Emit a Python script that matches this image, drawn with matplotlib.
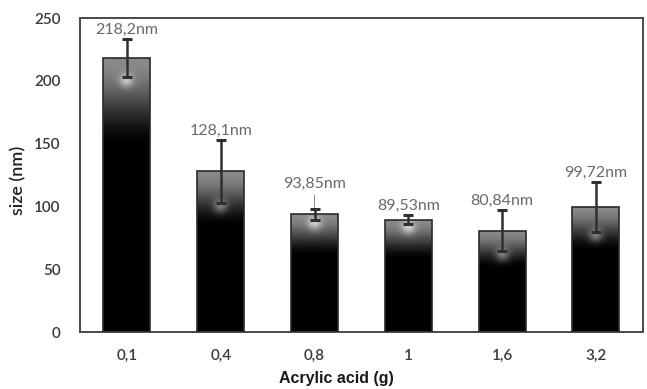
import numpy as np
import matplotlib.pyplot as plt

# mean particle size per acrylic acid loading, with standard deviation
amounts = ['0,1', '0,4', '0,8', '1', '1,6', '3,2']
sizes = [218.2, 128.1, 93.85, 89.53, 80.84, 99.72]
errors = [15.0, 25.0, 4.5, 3.5, 16.5, 20.0]
labels = ['218,2nm', '128,1nm', '93,85nm', '89,53nm', '80,84nm', '99,72nm']

fig = plt.figure(figsize=(6.47, 3.89), dpi=100)
ax = fig.add_axes([0.1236, 0.1465, 0.870, 0.807])

x = np.arange(len(amounts))
width = 0.5
px_per_unit = 0.807 * 389 / 250.0  # vertical pixels per nm

bars = ax.bar(x, sizes, width, facecolor='none', edgecolor='#2a2a2a', lw=1.2, zorder=3)

# shaded fill: grey top fading to black, with a soft highlight near the lower error cap
for xi, h, e, bar in zip(x, sizes, errors, bars):
    ny = int(h * px_per_unit)
    nx = 47
    yy = np.linspace(1, 0, ny)[:, None]  # 1 at top
    depth = (1 - yy) * ny                 # pixels below top
    t = np.clip(depth / (0.3 * ny + 8), 0, 1)
    base = 0.54 * (1 - t * t * (3 - 2 * t))
    xx = np.arange(nx)[None, :] - (nx - 1) / 2
    gy = (h - e) * px_per_unit
    dist2 = xx ** 2 + (yy * ny - gy + 4) ** 2
    glow = 0.32 * np.exp(-dist2 / (2 * 5.0 ** 2))
    img = np.clip(base + glow, 0, 1)
    im = ax.imshow(img, cmap='gray', vmin=0, vmax=1, aspect='auto',
                   extent=[xi - width / 2, xi + width / 2, 0, h],
                   interpolation='bilinear', zorder=2)
    im.set_clip_path(bar)

ax.errorbar(x, sizes, yerr=errors, fmt='none', ecolor='#303030',
            elinewidth=1.8, capsize=3.5, capthick=2.2, zorder=4)

# value labels above each error bar
for i, (h, e, lab) in enumerate(zip(sizes, errors, labels)):
    if lab == '93,85nm':
        ax.annotate(lab, xy=(i, h + e + 1), xytext=(i, h + e + 14),
                    ha='center', va='bottom', fontsize=11.5, color='#6a6a6a',
                    family='Lato',
                    arrowprops=dict(arrowstyle='-', color='#909090', lw=0.8,
                                    shrinkA=1, shrinkB=0), zorder=5)
    else:
        ax.text(i, h + e + 1.5, lab, ha='center', va='bottom', fontsize=11.5,
                color='#6a6a6a', family='Lato', zorder=5)

ax.set_xlim(-0.5, len(amounts) - 0.5)
ax.set_ylim(0, 250)
ax.set_yticks(range(0, 251, 50))
ax.set_xticks(x)
ax.set_xticklabels(amounts)
ax.tick_params(length=0, labelsize=11, colors='#3a3a3a')
ax.tick_params(axis='y', pad=14)
ax.tick_params(axis='x', pad=12)
for lab in ax.get_xticklabels() + ax.get_yticklabels():
    lab.set_family('Lato')
    lab.set_fontweight('semibold')
for s in ax.spines.values():
    s.set_color('#4a4a4a')
    s.set_linewidth(1.4)

fig.text(336 / 647, 1 - 379 / 389, 'Acrylic acid (g)', ha='center', va='center',
         fontsize=11.5, color='#1a1a1a', family='Liberation Sans', fontweight='bold')
fig.text(18 / 647, 1 - 180 / 389, 'size (nm)', ha='center', va='center',
         rotation=90, fontsize=13, color='#222222', family='Lato', fontweight='semibold')

fig.savefig('out.png', dpi=100)
